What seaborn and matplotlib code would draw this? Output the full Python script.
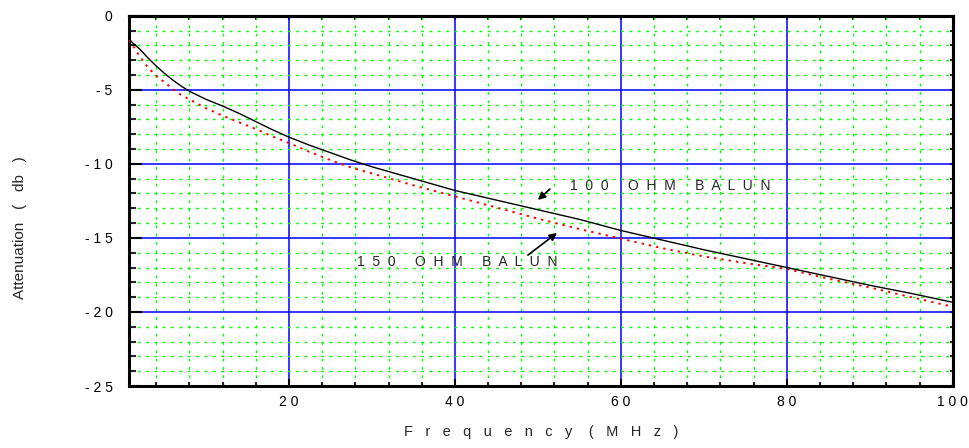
import matplotlib
matplotlib.use("Agg")
import matplotlib.pyplot as plt
from matplotlib.ticker import MultipleLocator, FixedLocator, FixedFormatter
import pandas as pd
import seaborn as sns

# ---- data ----
freq_mhz = [0.75, 1, 2, 3, 4, 5, 6, 7, 8, 10, 12, 14, 16, 18, 20, 22.5, 25, 27.5,
            30, 35, 40, 45, 50, 55, 60, 65, 70, 75, 80, 85, 90, 95, 100]
atten_100ohm = [-1.55, -1.75, -2.25, -2.85, -3.4, -3.9, -4.35, -4.75, -5.1, -5.65,
                -6.1, -6.6, -7.15, -7.7, -8.2, -8.75, -9.25, -9.75, -10.2, -11.0,
                -11.8, -12.45, -13.1, -13.75, -14.5, -15.15, -15.8, -16.4, -17.0,
                -17.6, -18.2, -18.75, -19.35]
atten_150ohm = [-1.65, -1.85, -2.75, -3.5, -4.05, -4.5, -4.95, -5.35, -5.65, -6.25,
                -6.75, -7.2, -7.65, -8.15, -8.6, -9.2, -9.75, -10.25, -10.65, -11.45,
                -12.2, -12.95, -13.7, -14.4, -15.05, -15.7, -16.25, -16.7, -17.1,
                -17.75, -18.35, -19.0, -19.65]
x_tick_values = [20, 40, 60, 80, 100]
x_tick_labels = ["2 0", "4 0", "6 0", "8 0", "1 0 0"]
y_tick_values = [-25, -20, -15, -10, -5, 0]
y_tick_labels = ["- 2 5", "- 2 0", "- 1 5", "- 1 0", "- 5", "0"]
label_100 = "1  0  0     O  H  M     B  A  L  U  N"
label_150 = "1  5  0     O  H  M     B  A  L  U  N"
x_label = "F   r   e   q   u   e   n   c   y    (   M   H   z   )"
y_label = "Attenuation   (   db   )"

df = pd.DataFrame({
    "freq": freq_mhz * 2,
    "att": atten_100ohm + atten_150ohm,
    "balun": ["100"] * len(freq_mhz) + ["150"] * len(freq_mhz),
})

sns.set_style("white")
plt.rcParams["font.family"] = ["Liberation Sans", "DejaVu Sans"]

W, H = 969, 448
fig = plt.figure(figsize=(W / 100, H / 100), dpi=100)
L, R, T, B = 129.3, 952.7, 15.7, 386.0
ax = fig.add_axes([L / W, 1 - B / H, (R - L) / W, (B - T) / H])

sns.lineplot(data=df[df.balun == "100"], x="freq", y="att", ax=ax,
             color="black", lw=1.0, sort=False, estimator=None, zorder=5)
sns.lineplot(data=df[df.balun == "150"], x="freq", y="att", ax=ax,
             color="#ff0000", lw=1.4, linestyle=(0, (1.2, 2.6)), sort=False,
             estimator=None, zorder=4)

ax.set_xlim(0.75, 100)
ax.set_ylim(-25, 0)

ax.xaxis.set_major_locator(FixedLocator(x_tick_values))
ax.xaxis.set_major_formatter(FixedFormatter(x_tick_labels))
ax.xaxis.set_minor_locator(MultipleLocator(4))
ax.yaxis.set_major_locator(FixedLocator(y_tick_values))
ax.yaxis.set_major_formatter(FixedFormatter(y_tick_labels))
ax.yaxis.set_minor_locator(MultipleLocator(1))

ax.grid(which="minor", color="#00ff00", linestyle=(0, (2, 4)), lw=1.0, zorder=1)
ax.grid(which="major", color="#0000ff", linestyle="-", lw=1.1, zorder=2)
ax.set_axisbelow(True)

for s in ax.spines.values():
    s.set_linewidth(2.2)
    s.set_color("black")
    s.set_visible(True)

ax.tick_params(axis="x", which="major", direction="in", length=5, width=1.5,
               labelsize=10, pad=6.5, colors="black", bottom=True, top=False)
ax.tick_params(axis="x", which="minor", direction="in", length=3, width=1.5,
               bottom=True, top=False)
ax.tick_params(axis="y", which="major", direction="in", length=9, width=1.5,
               labelsize=10, pad=12, colors="black", left=True, right=False)
ax.tick_params(axis="y", which="minor", direction="in", length=5, width=1.5,
               left=True, right=False)

# small ticks on top and right
top = ax.secondary_xaxis("top")
top.xaxis.set_major_locator(FixedLocator(x_tick_values))
top.xaxis.set_minor_locator(MultipleLocator(4))
top.tick_params(which="both", direction="in", length=3, width=1.5, labeltop=False)
top.spines["top"].set_linewidth(2.2)
right = ax.secondary_yaxis("right")
right.yaxis.set_major_locator(FixedLocator(y_tick_values))
right.yaxis.set_minor_locator(MultipleLocator(1))
right.tick_params(which="both", direction="in", length=2.5, width=1.5, labelright=False)
right.spines["right"].set_linewidth(2.2)

ax.set_xlabel(x_label, fontsize=10.5)
ax.set_ylabel(y_label, fontsize=11)
ax.xaxis.set_label_coords(0.5, -0.105)
ax.yaxis.set_label_coords(-0.124, 0.427)

# annotations
ax.annotate("", xy=(50.0, -12.44), xytext=(51.45, -11.70),
            arrowprops=dict(arrowstyle="-|>", color="black", lw=1.2,
                            mutation_scale=11, shrinkA=0, shrinkB=0), zorder=6)
ax.annotate("", xy=(52.3, -14.67), xytext=(48.8, -16.16),
            arrowprops=dict(arrowstyle="-|>", color="black", lw=1.2,
                            mutation_scale=11, shrinkA=0, shrinkB=0), zorder=6)
ax.text(53.9, -11.5, label_100, fontsize=10, ha="left", va="center", zorder=6)
ax.text(28.2, -16.6, label_150, fontsize=10, ha="left", va="center", zorder=6)

fig.savefig("out.png", dpi=100)
